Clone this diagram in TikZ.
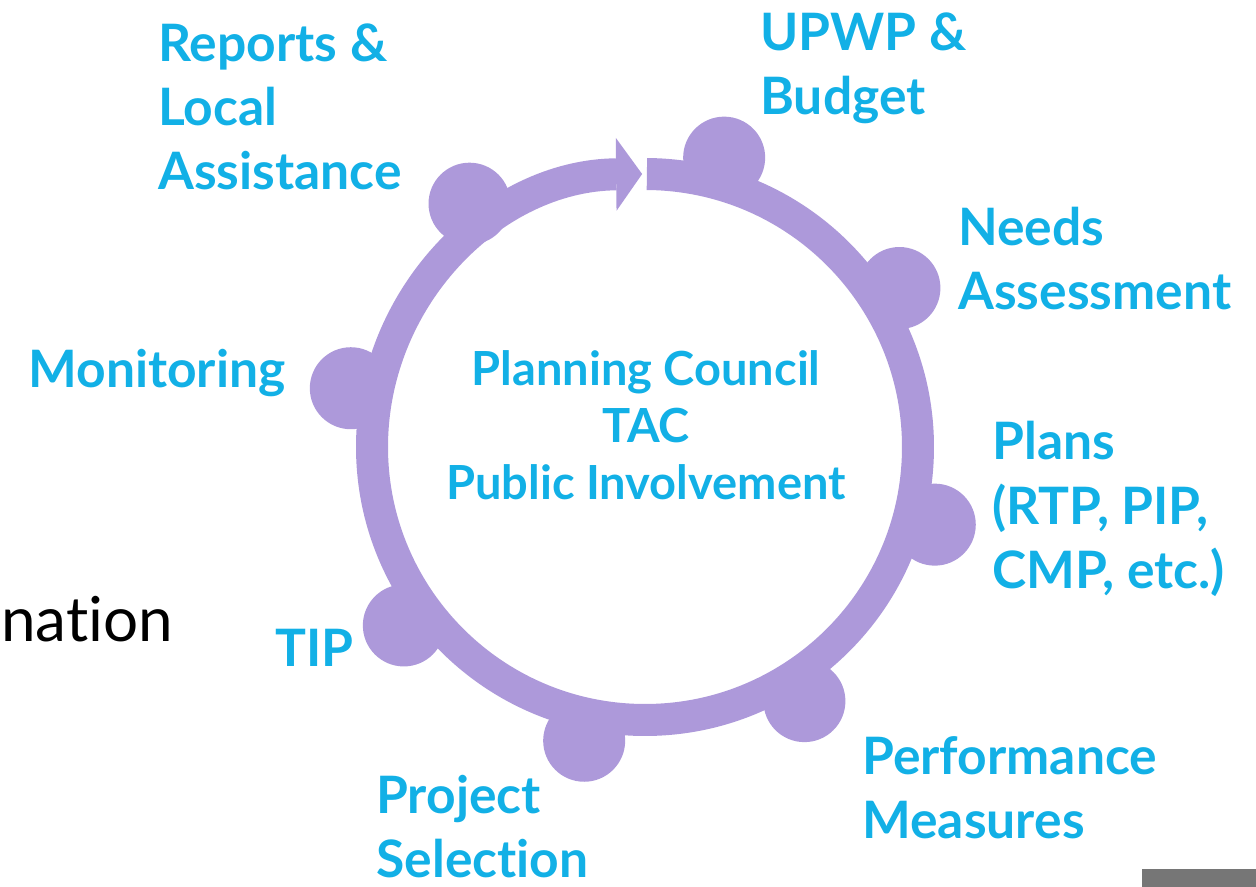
\documentclass[tikz,border=0pt]{standalone}
\usepackage{fontspec}
\setmainfont{Lato}[Ligatures=NoCommon]
\usetikzlibrary{arrows.meta,positioning}

\definecolor{ringpurple}{RGB}{173,153,218}
\definecolor{labelblue}{RGB}{18,176,230}
\definecolor{slidegray}{RGB}{118,118,118}

\begin{document}
\begin{tikzpicture}[x=0.5pt, y=0.5pt,
    dot/.style={circle, fill=ringpurple, inner sep=0pt, minimum size=41pt},
    lbl/.style={font=\bfseries\fontsize{25.8}{32}\selectfont, text=labelblue, align=left, inner sep=0pt, anchor=base west},
    centerlbl/.style={font=\bfseries\fontsize{23.5}{28.5}\selectfont, text=labelblue, align=center, inner sep=0pt}]
      \useasboundingbox (-645,-440) rectangle (611,447);

      % ring with arrow
      \draw[ringpurple, line width=16pt, -{Triangle[length=13pt, width=36.5pt, line width=0pt]}]
        (89.6:273) arc[start angle=89.6, end angle=-269.4, radius=273];

      % stage dots
      \node[dot] (upwpdot) at (74.7:300) {};
      \node[dot] (needsdot) at (32:300) {};
      \node[dot] (plansdot) at (-15:300) {};
      \node[dot] (perfdot) at (-57.9:300) {};
      \node[dot] (projdot) at (-101.7:300) {};
      \node[dot] (tipdot) at (-143.5:300) {};
      \node[dot] (mondot) at (168.7:300) {};
      \node[dot] (repdot) at (125.8:300) {};

      % stage labels (placed at the baseline of their last line)
      \node[lbl] (upwp) at (115,332) {UPWP \&\\Budget};
      \node[lbl] (needs) at (313,137) {Needs\\Assessment};
      \node[lbl] (plans) at (347,-141) {Plans\\(RTP, PIP,\\CMP, etc.)};
      \node[lbl] (perf) at (217,-391) {Performance\\Measures};
      \node[lbl] (proj) at (-269,-430) {Project\\Selection};
      \node[lbl] (tip) at (-370,-219) {TIP};
      \node[lbl] (mon) at (-617,59) {Monitoring};
      \node[lbl] (rep) at (-487,257) {Reports \&\\Local\\Assistance};

      % centre
      \node[centerlbl] (council) at (1,22) {Planning Council\\TAC\\Public Involvement};

      % slide leftovers
      \node[anchor=base west, inner sep=0pt, font=\fontsize{31}{37}\selectfont] (nation) at (-644,-194) {nation};
      \fill[slidegray] (497,-440) rectangle (611,-422);
    \end{tikzpicture}
\end{document}
